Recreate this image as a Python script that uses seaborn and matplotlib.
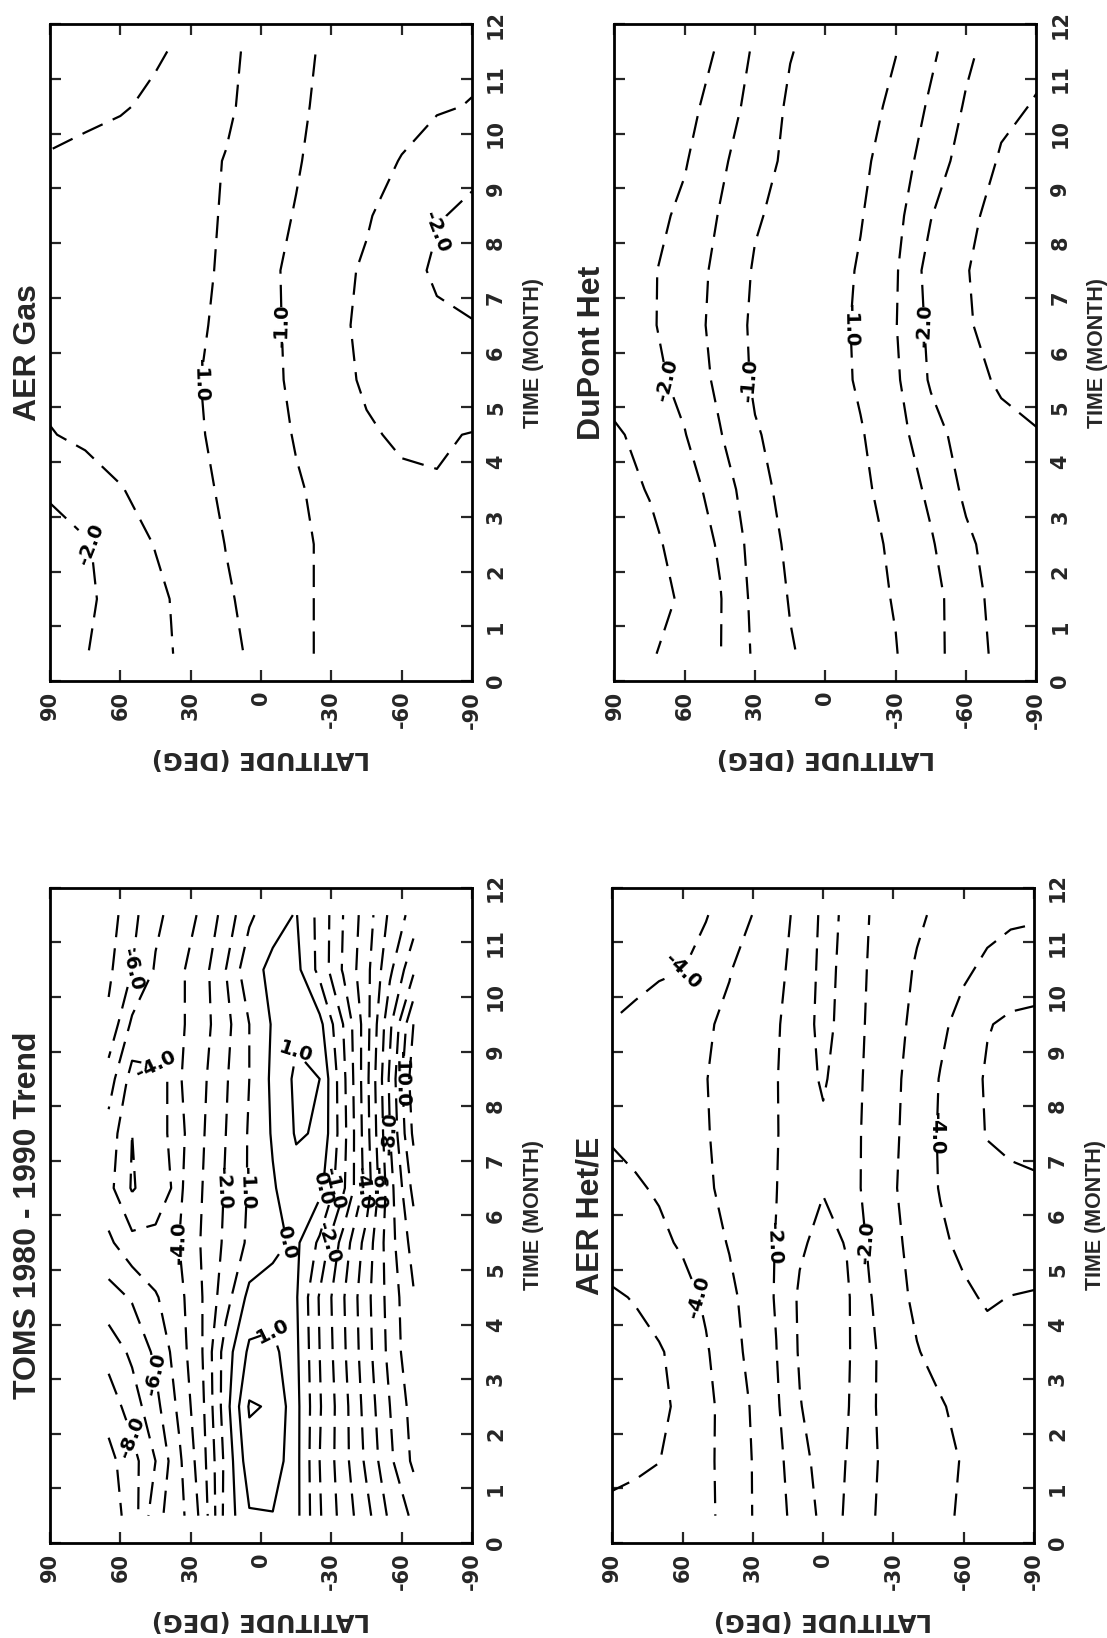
import numpy as np
import matplotlib
matplotlib.use("Agg")
import matplotlib.pyplot as plt
from matplotlib import font_manager
import seaborn as sns

# ---------------- data ----------------
MONTHS = [0.5, 1.5, 2.5, 3.5, 4.5, 5.5, 6.5, 7.5, 8.5, 9.5, 10.5, 11.5]
LAT15 = [90, 75, 60, 45, 30, 15, 0, -15, -30, -45, -60, -75, -90]
LAT10 = [90, 80, 70, 60, 50, 40, 30, 20, 10, 0, -10, -20, -30, -40, -50, -60, -70, -80, -90]
LAT_TOMS = [65, 55, 45, 35, 25, 15, 5, -5, -15, -25, -35, -45, -55, -65]

LAT_TICKS = [90, 60, 30, 0, -30, -60, -90]
LAT_TICK_LABELS = ["90", "60", "30", "0", "-30", "-60", "-90"]
MONTH_TICKS = list(range(13))

TITLES = ["AER Gas", "DuPont Het", "TOMS 1980 - 1990 Trend", "AER Het/E"]

# rows: months, columns: latitudes (LAT15)
AER_GAS = [
    [-2.30, -2.02, -1.80, -1.60, -1.40, -1.10, -0.90, -0.95, -1.05, -1.15, -1.25, -1.35, -1.40],
    [-2.40, -2.10, -1.80, -1.60, -1.35, -1.05, -0.85, -0.93, -1.07, -1.18, -1.28, -1.36, -1.42],
    [-2.30, -2.05, -1.75, -1.48, -1.25, -0.99, -0.82, -0.90, -1.10, -1.22, -1.32, -1.40, -1.44],
    [-1.90, -1.70, -1.52, -1.35, -1.15, -0.93, -0.80, -0.96, -1.12, -1.30, -1.42, -1.47, -1.48],
    [-1.52, -1.42, -1.32, -1.20, -1.07, -0.90, -0.80, -1.03, -1.30, -1.45, -1.56, -1.55, -1.48],
    [-1.40, -1.33, -1.25, -1.15, -1.04, -0.90, -0.82, -1.10, -1.35, -1.56, -1.72, -1.85, -1.90],
    [-1.35, -1.30, -1.22, -1.13, -1.05, -0.95, -0.83, -1.12, -1.38, -1.60, -1.78, -1.92, -1.98],
    [-1.32, -1.27, -1.20, -1.12, -1.06, -0.97, -0.84, -1.13, -1.38, -1.55, -1.83, -2.07, -2.15],
    [-1.33, -1.28, -1.20, -1.13, -1.07, -0.98, -0.86, -1.02, -1.25, -1.46, -1.70, -1.97, -2.08],
    [-1.45, -1.37, -1.27, -1.17, -1.08, -0.99, -0.88, -0.97, -1.15, -1.33, -1.52, -1.75, -1.90],
    [-1.70, -1.62, -1.55, -1.40, -1.22, -1.04, -0.90, -0.95, -1.08, -1.22, -1.35, -1.45, -1.52],
    [-1.95, -1.85, -1.70, -1.56, -1.38, -1.06, -0.92, -0.95, -1.04, -1.15, -1.27, -1.35, -1.40],
]

DUPONT_HET = [
    [-2.85, -2.55, -2.30, -2.02, -1.42, -1.04, -0.80, -0.85, -0.98, -1.35, -1.73, -2.15, -2.30],
    [-2.95, -2.75, -2.40, -2.03, -1.37, -0.97, -0.78, -0.83, -1.03, -1.33, -1.78, -2.20, -2.35],
    [-2.90, -2.62, -2.30, -1.95, -1.30, -0.90, -0.76, -0.85, -1.08, -1.45, -1.90, -2.25, -2.40],
    [-2.68, -2.47, -2.20, -1.80, -1.15, -0.85, -0.74, -0.90, -1.20, -1.60, -2.10, -2.35, -2.45],
    [-2.55, -2.38, -2.02, -1.53, -1.04, -0.82, -0.75, -0.96, -1.32, -1.80, -2.22, -2.40, -2.48],
    [-2.35, -2.15, -1.85, -1.38, -0.93, -0.80, -0.76, -1.07, -1.42, -2.06, -2.38, -2.55, -2.62],
    [-2.25, -2.07, -1.72, -1.35, -0.90, -0.78, -0.75, -1.10, -1.48, -2.12, -2.46, -2.65, -2.72],
    [-2.27, -2.07, -1.75, -1.38, -0.95, -0.80, -0.76, -1.05, -1.45, -2.20, -2.48, -2.70, -2.75],
    [-2.35, -2.15, -1.90, -1.47, -1.05, -0.84, -0.77, -0.97, -1.35, -1.98, -2.42, -2.62, -2.72],
    [-2.42, -2.27, -2.04, -1.60, -1.18, -0.90, -0.78, -0.90, -1.23, -1.75, -2.20, -2.55, -2.68],
    [-2.47, -2.36, -2.15, -1.80, -1.30, -0.93, -0.80, -0.86, -1.08, -1.58, -2.05, -2.40, -2.53],
    [-2.45, -2.35, -2.20, -1.96, -1.42, -1.02, -0.82, -0.84, -0.99, -1.40, -1.90, -2.25, -2.40],
]

# rows: months, columns: latitudes (LAT_TOMS)
TOMS_TREND = [
    [-9.5, -8.6, -6.3, -5.4, -3.7, -0.6, 0.9, 0.95, 0.3, -1.9, -3.4, -4.7, -6.2, -7.2],
    [-9.3, -8.4, -7.0, -5.2, -3.4, -0.7, 1.6, 1.6, 0.3, -2.0, -3.6, -5.2, -6.8, -8.2],
    [-8.6, -7.5, -6.3, -4.8, -3.2, -0.4, 2.1, 1.9, 0.3, -1.9, -3.6, -5.4, -7.0, -8.4],
    [-7.6, -6.8, -5.8, -4.5, -3.0, -0.5, 1.2, 1.3, 0.2, -2.0, -3.8, -5.6, -7.3, -8.8],
    [-6.4, -5.9, -5.1, -4.3, -3.0, -1.4, 0.3, 0.5, 0.1, -2.1, -3.9, -5.7, -7.4, -8.9],
    [-5.2, -4.3, -4.2, -4.0, -2.9, -1.8, -0.8, -0.3, 0.2, -1.2, -3.4, -5.4, -7.6, -9.4],
    [-4.3, -2.9, -3.6, -4.2, -3.0, -1.9, -0.9, -0.1, 0.6, 0.3, -1.8, -4.4, -7.6, -10.3],
    [-4.6, -3.0, -3.7, -4.3, -3.1, -2.0, -0.9, 0.1, 1.1, 0.9, -1.6, -4.6, -8.0, -11.2],
    [-5.5, -3.6, -3.9, -4.1, -3.2, -2.1, -1.0, 0.2, 1.2, 1.0, -1.7, -4.7, -8.2, -11.6],
    [-6.8, -4.8, -4.3, -4.2, -3.4, -2.3, -1.0, 0.1, 0.8, 0.3, -2.0, -4.6, -7.8, -11.0],
    [-7.2, -6.0, -4.9, -4.2, -3.4, -2.0, -0.3, 0.2, 0.3, -1.3, -3.1, -4.7, -6.8, -8.8],
    [-7.5, -6.3, -5.2, -4.6, -3.8, -2.6, -1.2, -0.3, 0.05, -1.3, -3.0, -4.5, -6.2, -7.4],
]

# rows: months, columns: latitudes (LAT10)
AER_HET_E = [
    [-4.75, -4.60, -4.45, -4.30, -4.20, -3.70, -2.98, -2.35, -1.60, -0.75, -1.05, -1.90, -2.35, -2.60, -2.85, -3.10, -3.30, -3.45, -3.50],
    [-5.30, -5.20, -5.02, -4.60, -4.20, -3.65, -2.97, -2.30, -1.35, -0.60, -1.02, -1.85, -2.30, -2.55, -2.80, -3.05, -3.25, -3.40, -3.45],
    [-5.40, -5.30, -5.15, -4.85, -4.25, -3.60, -2.90, -2.15, -1.05, -0.50, -0.90, -1.90, -2.30, -2.60, -2.92, -3.25, -3.45, -3.60, -3.65],
    [-5.35, -5.25, -5.07, -4.75, -4.10, -3.40, -2.70, -2.02, -0.90, -0.45, -0.85, -1.85, -2.40, -2.95, -3.30, -3.55, -3.70, -3.80, -3.82],
    [-5.10, -4.95, -4.70, -4.35, -3.85, -3.25, -2.55, -1.93, -0.85, -0.45, -0.85, -1.95, -2.65, -3.20, -3.55, -3.85, -4.10, -3.98, -3.90],
    [-4.60, -4.45, -4.20, -3.88, -3.45, -2.93, -2.40, -1.97, -1.15, -0.70, -1.05, -2.20, -2.75, -3.40, -3.85, -4.20, -4.45, -4.60, -4.65],
    [-4.30, -4.10, -3.90, -3.60, -3.15, -2.72, -2.35, -2.02, -1.40, -1.05, -1.55, -2.30, -2.90, -3.55, -4.05, -4.40, -4.65, -4.80, -4.88],
    [-3.90, -3.75, -3.55, -3.30, -3.05, -2.75, -2.45, -2.05, -1.50, -1.15, -1.60, -2.25, -2.85, -3.45, -4.10, -4.55, -5.05, -5.20, -5.25],
    [-3.75, -3.60, -3.40, -3.20, -3.02, -2.72, -2.40, -2.05, -1.35, -0.90, -1.45, -2.25, -2.80, -3.40, -4.05, -4.60, -5.10, -5.30, -5.35],
    [-3.97, -3.80, -3.55, -3.30, -3.10, -2.82, -2.50, -2.12, -1.40, -0.75, -1.30, -2.20, -2.70, -3.25, -3.80, -4.35, -4.95, -5.15, -5.20],
    [-4.40, -4.25, -4.12, -4.02, -3.65, -3.05, -2.60, -2.20, -1.70, -0.70, -1.25, -2.12, -2.60, -3.10, -3.50, -3.85, -4.20, -4.50, -4.60],
    [-4.70, -4.60, -4.45, -4.25, -4.05, -3.55, -2.98, -2.40, -1.75, -0.80, -1.10, -2.03, -2.40, -2.85, -3.20, -3.50, -3.70, -3.82, -3.88],
]

LEVELS_GAS = [-2.5, -2.0, -1.5, -1.0, -0.5]
LEVELS_DUPONT = [-3.0, -2.5, -2.0, -1.5, -1.0, -0.5]
LEVELS_TOMS = [-12, -11, -10, -9, -8, -7, -6, -5, -4, -3, -2, -1, 0, 1, 2]
LEVELS_HET = [-6, -5, -4, -3, -2, -1, 0]

LABELS_GAS = [-2.0, -1.0]
LABELS_DUPONT = [-2.0, -1.0]
LABELS_TOMS = [-10, -8, -6, -4, -2, -1, 0, 1]
LABELS_HET = [-4, -2]

# ---------------- style ----------------
sns.set_style("white")
names = {f.name for f in font_manager.fontManager.ttflist}
narrow = "Liberation Sans Narrow" if "Liberation Sans Narrow" in names else "Liberation Sans"
plt.rcParams["font.family"] = [narrow, "DejaVu Sans"]
TICK_FONT = dict(family=["DejaVu Sans"], fontweight="bold", fontsize=15)

fig = plt.figure(figsize=(11.07, 16.38), dpi=100)
fig.patch.set_facecolor("white")

W, H = 0.3812, 0.4011
panels = [
    (TITLES[0], LAT15, AER_GAS, LEVELS_GAS, LABELS_GAS, [0.0452, 0.5842, W, H]),
    (TITLES[1], LAT15, DUPONT_HET, LEVELS_DUPONT, LABELS_DUPONT, [0.5550, 0.5842, W, H]),
    (TITLES[2], LAT_TOMS, TOMS_TREND, LEVELS_TOMS, LABELS_TOMS, [0.0452, 0.0580, W, 0.4000]),
    (TITLES[3], LAT10, AER_HET_E, LEVELS_HET, LABELS_HET, [0.5530, 0.0580, W, 0.4000]),
]

dash = (0, (10, 5))
for title, lat, data, levels, lab_levels, rect in panels:
    ax = fig.add_axes(rect)
    Z = np.array(data)
    styles = [dash if lv < 0 else "solid" for lv in levels]
    cs = ax.contour(lat, MONTHS, Z, levels=levels, colors="black",
                    linewidths=1.6, linestyles=styles)
    labs = cs.clabel(levels=[l for l in lab_levels if l in levels], fmt="%.1f",
                     fontsize=14, inline=True, inline_spacing=3)
    for t in labs:
        t.set_fontweight("bold")
        t.set_family(["DejaVu Sans"])

    ax.set_xlim(90, -90)
    ax.set_ylim(0, 12)
    ax.set_xticks(LAT_TICKS)
    ax.set_xticklabels(LAT_TICK_LABELS, rotation=90, **TICK_FONT)
    ax.set_yticks(MONTH_TICKS)
    ax.set_yticklabels([str(m) for m in MONTH_TICKS], rotation=90, va="center",
                       **TICK_FONT)
    ax.tick_params(direction="in", length=8, width=1.6, top=True, bottom=True,
                   left=True, right=True, labelleft=False, labelright=True)
    ax.tick_params(axis="x", pad=7)
    ax.tick_params(axis="y", pad=10)
    for sp in ax.spines.values():
        sp.set_linewidth(2.0)
        sp.set_color("black")
    ax.set_facecolor("white")

    ax.text(-0.052, 0.5, title, rotation=90, transform=ax.transAxes,
            ha="center", va="center", fontsize=23, fontweight="bold")
    ax.text(1.145, 0.5, "TIME (MONTH)", rotation=90, transform=ax.transAxes,
            ha="center", va="center", fontsize=15.5, fontweight="bold")
    ax.text(0.5, -0.117, "LATITUDE (DEG)", rotation=180, transform=ax.transAxes,
            ha="center", va="center", fontsize=17.5, fontweight="bold",
            family=["DejaVu Sans"])

fig.savefig("out.png", dpi=100, facecolor="white")
